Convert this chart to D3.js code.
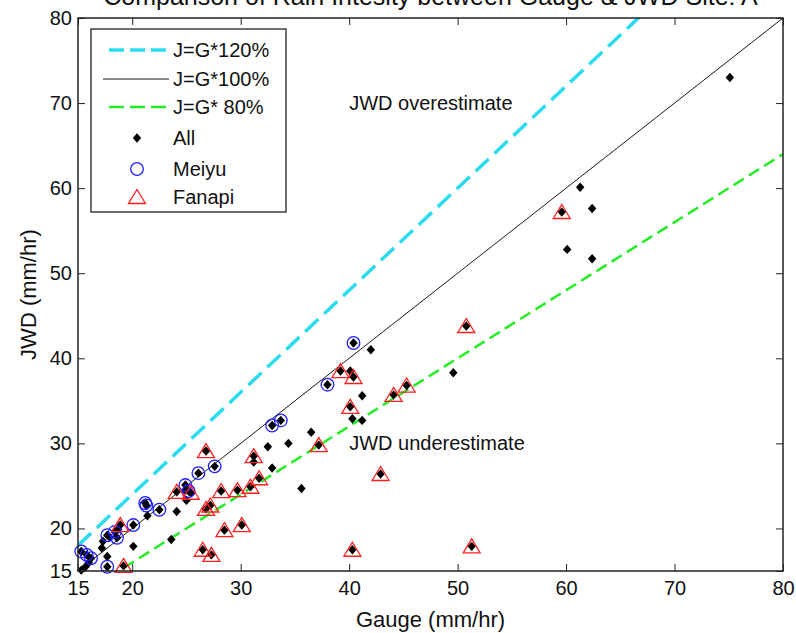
<!DOCTYPE html>
<html>
<head>
<meta charset="utf-8" />
<title>Rain intensity: gauge vs JWD</title>
<style>
  body { margin: 0; background: #fff; }
  svg { display: block; font-family: "Liberation Sans", Arial, sans-serif; }
</style>
</head>
<body>
<div id="chart"></div>
<script src="https://cdn.jsdelivr.net/npm/d3@7/dist/d3.min.js"></script>
<script>
// points are [gauge, jwd] in mm/hr
const meiyuPts = [
  [40.4, 41.8], [38.0, 36.9], [32.9, 32.1], [33.7, 32.7], [27.6, 27.3],
  [26.1, 26.5], [24.9, 25.1], [25.2, 24.4], [21.2, 23.0], [21.3, 22.7],
  [22.5, 22.2], [20.1, 20.4], [18.4, 19.6], [17.7, 19.2], [18.6, 18.9],
  [15.3, 17.3], [15.8, 16.9], [16.2, 16.5], [17.7, 15.5]
]
const fanapiPts = [
  [59.6, 57.2], [50.8, 43.8], [39.2, 38.5], [40.4, 37.8], [45.3, 36.8],
  [44.1, 35.7], [40.1, 34.3], [42.9, 26.4], [40.3, 17.5], [51.3, 17.9],
  [37.2, 29.8], [26.8, 29.1], [31.2, 28.5], [31.7, 25.9], [30.9, 24.9],
  [29.7, 24.5], [28.2, 24.4], [27.2, 22.7], [26.8, 22.3], [30.1, 20.4],
  [28.5, 19.8], [26.5, 17.5], [27.3, 16.9], [24.1, 24.3], [25.4, 24.2],
  [18.9, 20.4], [19.2, 15.6]
]
// dots that only belong to "All"
const otherPts = [
  [75.1, 73.0], [61.3, 60.1], [62.4, 57.6], [60.1, 52.8], [62.4, 51.7],
  [42.0, 41.0], [40.1, 38.5], [49.6, 38.3], [41.2, 35.6], [40.3, 32.9],
  [41.2, 32.7], [36.5, 31.3], [34.4, 30.0], [32.5, 29.6], [31.2, 27.8],
  [32.9, 27.1], [35.6, 24.7], [24.9, 24.5], [25.0, 23.3], [24.1, 22.0],
  [21.4, 21.5], [18.7, 19.9], [17.9, 19.0], [17.3, 18.5], [17.2, 17.7],
  [20.1, 17.9], [23.6, 18.7], [17.7, 16.7], [15.7, 15.5], [15.3, 15.1],
  [16.0, 16.0]
]
const allPts = otherPts.concat(meiyuPts, fanapiPts)

const ratios = [1.2, 1.0, 0.8]
const ratioNames = ['J=G*120%', 'J=G*100%', 'J=G* 80%']
const xTicks = [15, 20, 30, 40, 50, 60, 70, 80]
const yTicks = [15, 20, 30, 40, 50, 60, 70, 80]

const W = 796, H = 633
const m = {left: 78, right: 13, top: 18, bottom: 62}

const x = d3.scaleLinear().domain([15, 80]).range([m.left, W - m.right])
const y = d3.scaleLinear().domain([15, 80]).range([H - m.bottom, m.top])

const lineStyle = [
  {color: '#2adcee', width: 3.5, dash: '18,8', legendDash: '15,6'},
  {color: '#1a1a1a', width: 1, dash: null, legendDash: null},
  {color: '#22ee22', width: 2.5, dash: '12,6', legendDash: '15,6'}
]

const svg = d3.select('#chart').append('svg')
  .attr('width', W).attr('height', H)

svg.append('defs').append('clipPath').attr('id', 'plotclip')
  .append('rect')
  .attr('x', x(15)).attr('y', y(80))
  .attr('width', x(80) - x(15)).attr('height', y(15) - y(80))

// title (its top is cut off by the window, as in the original figure)
svg.append('text')
  .attr('x', (x(15) + x(80)) / 2).attr('y', 5)
  .attr('text-anchor', 'middle')
  .style('font-size', '25px').attr('fill', '#111')
  .text('Comparison of Rain Intesity between Gauge & JWD Site: A')

// reference lines J = G * ratio
const lines = svg.append('g').attr('clip-path', 'url(#plotclip)')
ratios.forEach((r, i) => {
  lines.append('line')
    .attr('x1', x(15)).attr('y1', y(15 * r))
    .attr('x2', x(80)).attr('y2', y(80 * r))
    .attr('stroke', lineStyle[i].color)
    .attr('stroke-width', lineStyle[i].width)
    .attr('stroke-dasharray', lineStyle[i].dash)
})

// markers
function diamondPath(s) {
  return 'M0,' + (-s) + 'L' + (s * 0.9) + ',0L0,' + s + 'L' + (-s * 0.9) + ',0Z'
}
const triPath = 'M0,-7.5L8.5,6.5L-8.5,6.5Z'

const marks = svg.append('g')
marks.selectAll('path.all').data(allPts).enter().append('path')
  .attr('class', 'all')
  .attr('d', diamondPath(4.7))
  .attr('transform', d => 'translate(' + x(d[0]) + ',' + y(d[1]) + ')')
  .attr('fill', '#000')

marks.selectAll('circle.meiyu').data(meiyuPts).enter().append('circle')
  .attr('class', 'meiyu')
  .attr('cx', d => x(d[0])).attr('cy', d => y(d[1]))
  .attr('r', 6.3)
  .attr('fill', 'none').attr('stroke', '#1f1fff').attr('stroke-width', 1.3)

marks.selectAll('path.fanapi').data(fanapiPts).enter().append('path')
  .attr('class', 'fanapi')
  .attr('d', triPath)
  .attr('transform', d => 'translate(' + x(d[0]) + ',' + y(d[1]) + ')')
  .attr('fill', 'none').attr('stroke', '#ff1f1f').attr('stroke-width', 1.3)

// annotations
svg.append('text').attr('x', x(40)).attr('y', y(70))
  .attr('dy', '0.35em').style('font-size', '20px').attr('fill', '#111')
  .text('JWD overestimate')
svg.append('text').attr('x', x(40)).attr('y', y(30))
  .attr('dy', '0.35em').style('font-size', '20px').attr('fill', '#111')
  .text('JWD underestimate')

// axes, ticks inward on all four sides
function styleAxis(g) {
  g.select('.domain').remove()
  g.selectAll('.tick line').attr('stroke', '#222')
  g.selectAll('.tick text').style('font-size', '20px').attr('fill', '#111')
  g.style('font-family', null)
}
svg.append('g').attr('transform', 'translate(0,' + y(15) + ')')
  .call(d3.axisBottom(x).tickValues(xTicks).tickSize(-7).tickPadding(10))
  .call(styleAxis)
svg.append('g').attr('transform', 'translate(0,' + y(80) + ')')
  .call(d3.axisTop(x).tickValues(xTicks).tickSize(-7).tickFormat(''))
  .call(styleAxis)
svg.append('g').attr('transform', 'translate(' + x(15) + ',0)')
  .call(d3.axisLeft(y).tickValues(yTicks).tickSize(-7).tickPadding(6))
  .call(styleAxis)
svg.append('g').attr('transform', 'translate(' + x(80) + ',0)')
  .call(d3.axisRight(y).tickValues(yTicks).tickSize(-7).tickFormat(''))
  .call(styleAxis)

svg.append('rect')
  .attr('x', x(15)).attr('y', y(80))
  .attr('width', x(80) - x(15)).attr('height', y(15) - y(80))
  .attr('fill', 'none').attr('stroke', '#222').attr('stroke-width', 1.5)

// axis labels
svg.append('text')
  .attr('x', (x(15) + x(80)) / 2).attr('y', 627)
  .attr('text-anchor', 'middle').style('font-size', '22px').attr('fill', '#111')
  .text('Gauge (mm/hr)')
svg.append('text')
  .attr('transform', 'translate(36,' + (y(15) + y(80)) / 2 + ') rotate(-90)')
  .attr('text-anchor', 'middle').style('font-size', '22px').attr('fill', '#111')
  .text('JWD (mm/hr)')

// legend
const leg = svg.append('g').attr('transform', 'translate(91,29)')
const rowY = [21, 50, 78, 109, 140, 168]
leg.append('rect').attr('width', 195).attr('height', 183)
  .attr('fill', '#fff').attr('stroke', '#222').attr('stroke-width', 1.3)
ratioNames.forEach((name, i) => {
  leg.append('line')
    .attr('x1', i === 1 ? 12 : 18).attr('x2', 78)
    .attr('y1', rowY[i]).attr('y2', rowY[i])
    .attr('stroke', lineStyle[i].color)
    .attr('stroke-width', lineStyle[i].width)
    .attr('stroke-dasharray', lineStyle[i].legendDash)
  leg.append('text').attr('x', 82).attr('y', rowY[i]).attr('dy', '0.35em')
    .style('font-size', '20px').attr('fill', '#111').text(name)
})
leg.append('path').attr('d', diamondPath(4.7))
  .attr('transform', 'translate(46,' + rowY[3] + ')').attr('fill', '#000')
leg.append('circle').attr('cx', 46).attr('cy', rowY[4]).attr('r', 6.3)
  .attr('fill', 'none').attr('stroke', '#1f1fff').attr('stroke-width', 1.3)
leg.append('path').attr('d', triPath)
  .attr('transform', 'translate(46,' + rowY[5] + ')')
  .attr('fill', 'none').attr('stroke', '#ff1f1f').attr('stroke-width', 1.3)
const markNames = ['All', 'Meiyu', 'Fanapi']
markNames.forEach((name, i) => {
  leg.append('text').attr('x', 82).attr('y', rowY[3 + i]).attr('dy', '0.35em')
    .style('font-size', '20px').attr('fill', '#111').text(name)
})
</script>
</body>
</html>
